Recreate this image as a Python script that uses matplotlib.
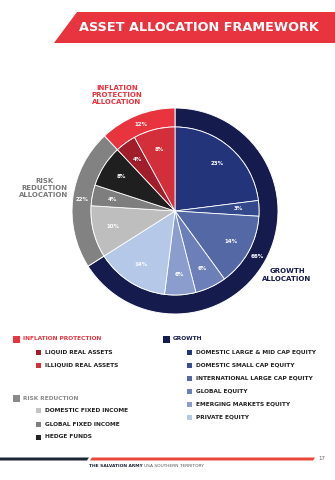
import matplotlib
matplotlib.use("Agg")
import matplotlib.pyplot as plt
from matplotlib.patches import Polygon, Rectangle

# ---------------- data ----------------
outer_labels = ["Growth", "Risk Reduction", "Inflation Protection"]
outer_values = [66, 22, 12]
outer_colors = ["#161b4d", "#828282", "#e8343f"]

inner_labels = ["Domestic Large & Mid Cap Equity", "Domestic Small Cap Equity",
                "International Large Cap Equity", "Global Equity",
                "Emerging Markets Equity", "Private Equity",
                "Domestic Fixed Income", "Global Fixed Income", "Hedge Funds",
                "Liquid Real Assets", "Illiquid Real Assets"]
inner_values = [23, 3, 14, 6, 6, 14, 10, 4, 8, 4, 8]
inner_colors = ["#23347a", "#34488c", "#5468a6", "#6c7fb8", "#8b9dcc", "#b5c8e8",
                "#bebebe", "#7e7e7e", "#1f1f1f", "#a11d2a", "#d32f3b"]

title = "ASSET ALLOCATION FRAMEWORK"

legend_groups = [
    ("INFLATION PROTECTION", "#e8343f", "#e8343f",
     ["LIQUID REAL ASSETS", "ILLIQUID REAL ASSETS"], ["#a11d2a", "#d32f3b"]),
    ("RISK REDUCTION", "#8a8a8a", "#8a8a8a",
     ["DOMESTIC FIXED INCOME", "GLOBAL FIXED INCOME", "HEDGE FUNDS"],
     ["#c4c4c4", "#808080", "#222222"]),
    ("GROWTH", "#161b4d", "#161b4d",
     ["DOMESTIC LARGE & MID CAP EQUITY", "DOMESTIC SMALL CAP EQUITY",
      "INTERNATIONAL LARGE CAP EQUITY", "GLOBAL EQUITY",
      "EMERGING MARKETS EQUITY", "PRIVATE EQUITY"],
     ["#23347a", "#3a4d90", "#5468a6", "#6c7fb8", "#8b9dcc", "#b5c8e8"]),
]

group_titles = [("INFLATION\nPROTECTION\nALLOCATION", "#e8343f"),
                ("RISK\nREDUCTION\nALLOCATION", "#7a7a7a"),
                ("GROWTH\nALLOCATION", "#161b4d")]

W, H = 335, 480
fig = plt.figure(figsize=(W / 100, H / 100), dpi=100)
ax = fig.add_axes([0, 0, 1, 1])

def Y(py):
    return H - py

FONT = "DejaVu Sans"

# ---------------- pie ----------------
cx, cy = 175, Y(211)
R_out, R_in = 103, 84

ax.pie(outer_values, colors=outer_colors, startangle=90, counterclock=False,
       center=(cx, cy), radius=R_out,
       wedgeprops=dict(width=R_out - R_in, edgecolor="white", linewidth=0.7),
       autopct=lambda p: f"{p:.0f}%", pctdistance=(R_out + R_in) / 2 / R_out,
       textprops=dict(color="white", fontsize=4, fontweight="bold", family=FONT))
ax.pie(inner_values, colors=inner_colors, startangle=90, counterclock=False,
       center=(cx, cy), radius=R_in,
       wedgeprops=dict(edgecolor="white", linewidth=0.6),
       autopct=lambda p: f"{p:.0f}%", pctdistance=0.76,
       textprops=dict(color="white", fontsize=4, fontweight="bold", family=FONT))

ax.set_xlim(0, W)
ax.set_ylim(0, H)
ax.set_aspect("equal")
ax.axis("off")

# group titles
ax.text(117, Y(95), group_titles[0][0], color=group_titles[0][1], ha="center", va="center",
        fontsize=5, fontweight="bold", family=FONT, linespacing=1.25)
ax.text(44, Y(188), group_titles[1][0], color=group_titles[1][1], ha="center", va="center",
        fontsize=5, fontweight="bold", family=FONT, linespacing=1.25)
ax.text(287, Y(275), group_titles[2][0], color=group_titles[2][1], ha="center", va="center",
        fontsize=5, fontweight="bold", family=FONT, linespacing=1.25)

# ---------------- title banner ----------------
ax.add_patch(Polygon([(54, Y(43)), (77, Y(12)), (W, Y(12)), (W, Y(43))],
                     closed=True, facecolor="#e8343f", edgecolor="none"))
ax.text(198.5, Y(27.5), title, color="white", ha="center", va="center",
        fontsize=9.3, fontweight="bold", family=FONT)

# ---------------- legend ----------------
def legend_block(x_big, x_text, x_small, x_subtext, y0, sub_ys, group):
    name, sqc, txtc, items, cols = group
    ax.add_patch(Rectangle((x_big, Y(y0) - 3.5), 7, 7, facecolor=sqc, edgecolor="none"))
    ax.text(x_text, Y(y0), name, color=txtc, ha="left", va="center",
            fontsize=4.25, fontweight="bold", family=FONT)
    for it, c, yy in zip(items, cols, sub_ys):
        ax.add_patch(Rectangle((x_small, Y(yy) - 2.5), 5, 5, facecolor=c, edgecolor="none"))
        ax.text(x_subtext, Y(yy), it, color="#222222", ha="left", va="center",
                fontsize=4.25, fontweight="bold", family=FONT)

legend_block(13, 23, 36, 45, 339, [352, 365], legend_groups[0])
legend_block(13, 23, 36, 45, 398, [410, 424, 437], legend_groups[1])
legend_block(163, 173, 187, 196, 339, [352, 365, 378, 391, 404, 417], legend_groups[2])

# ---------------- footer ----------------
ax.add_patch(Polygon([(0, Y(457.5)), (89, Y(457.5)), (87, Y(460.5)), (0, Y(460.5))],
                     closed=True, facecolor="#1c2536", edgecolor="none"))
ax.add_patch(Polygon([(92, Y(457.5)), (315, Y(457.5)), (313, Y(460.5)), (90, Y(460.5))],
                     closed=True, facecolor="#e8473a", edgecolor="none"))
ax.text(322, Y(459), "17", color="#666666", ha="center", va="center",
        fontsize=4, family=FONT)
t1 = ax.text(89, Y(466), "THE SALVATION ARMY", color="#1c2536", ha="left", va="center",
             fontsize=3.15, fontweight="bold", family=FONT)
fig.canvas.draw()
bb = t1.get_window_extent()
ax.text(bb.x1 + 1.5, Y(466), "USA SOUTHERN TERRITORY", color="#555555", ha="left",
        va="center", fontsize=3.15, family=FONT)

fig.savefig("out.png", dpi=100, facecolor="white")
